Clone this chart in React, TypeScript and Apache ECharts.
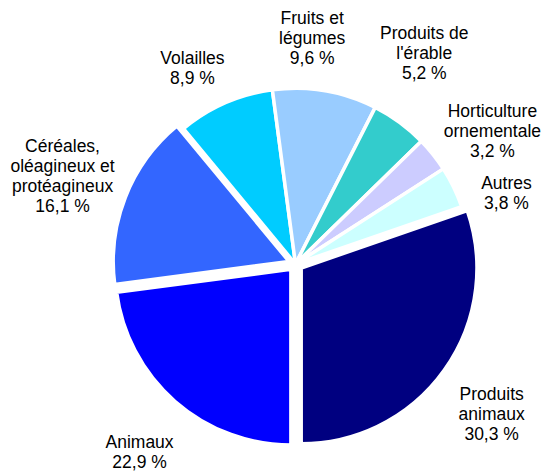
import { useEffect, useRef } from "react";
import * as echarts from "echarts";

// Data (clockwise, starting at 6 o'clock)
const categories = [
  "Animaux",
  "Céréales,\noléagineux et\nprotéagineux",
  "Volailles",
  "Fruits et\nlégumes",
  "Produits de\nl'érable",
  "Horticulture\nornementale",
  "Autres",
  "Produits\nanimaux",
];
const shares = [22.9, 16.1, 8.9, 9.6, 5.2, 3.2, 3.8, 30.3];
const exploded = [true, true, false, false, false, false, false, true];

// Styles / layout
const colors = ["#0000FF", "#3366FF", "#00CCFF", "#99CCFF", "#33CCCC", "#CCCCFF", "#CCFFFF", "#000080"];
const labelNudge: [number, number][] = [
  [-3.5, 13.3],
  [9.5, 6.4],
  [-15, 4],
  [-21.2, -2.9],
  [-9.6, -23.4],
  [5.6, 18.7],
  [9, 26.4],
  [-2.6, 7.2],
];

const CX = 295.5;
const CY = 264;
const BORDER = 3.5;
const R_VISUAL = 174;
const R = R_VISUAL + BORDER / 2;
const OFFSET = 7;
const GAP = 22;
const FONT = "'Liberation Sans', Arial, sans-serif";

const fmt = (v: number) => v.toFixed(1).replace(".", ",") + " %";

export default function App() {
  const ref = useRef<HTMLDivElement>(null);
  useEffect(() => {
    if (!ref.current) return;
    const chart = echarts.init(ref.current, undefined, { renderer: "svg" });
    const total = shares.reduce((a, b) => a + b, 0);
    const mids: number[] = [];
    let cum = 0;
    shares.forEach((v) => {
      mids.push(180 + ((cum + v / 2) / total) * 360);
      cum += v;
    });
    const common = {
      type: "pie",
      center: [CX, CY],
      radius: R,
      startAngle: -90,
      clockwise: true,
      avoidLabelOverlap: false,
      emphasis: { disabled: true },
    };
    chart.setOption({
      animation: false,
      backgroundColor: "#ffffff",
      series: [
        {
          ...common,
          selectedMode: "multiple",
          selectedOffset: OFFSET,
          itemStyle: { borderColor: "#ffffff", borderWidth: BORDER },
          label: { show: false },
          labelLine: { show: false },
          data: categories.map((name, i) => ({
            name,
            value: shares[i],
            selected: exploded[i],
            itemStyle: { color: colors[i] },
            select: { itemStyle: { color: colors[i] } },
          })),
        },
        {
          ...common,
          silent: true,
          selectedMode: false,
          itemStyle: { color: "rgba(0,0,0,0)", borderWidth: 0 },
          label: {
            show: true,
            position: "outside",
            formatter: (p: any) => p.name + "\n" + fmt(p.value),
            fontFamily: FONT,
            fontSize: 17.5,
            lineHeight: 20,
            color: "#000000",
          },
          labelLine: { show: false },
          labelLayout: (params: any) => {
            const i = params.dataIndex;
            const th = (mids[i] * Math.PI) / 180;
            const ux = Math.sin(th);
            const uy = -Math.cos(th);
            const w = params.labelRect.width / 2;
            const h = params.labelRect.height / 2;
            const edge = Math.min(
              Math.abs(ux) > 1e-6 ? w / Math.abs(ux) : Infinity,
              Math.abs(uy) > 1e-6 ? h / Math.abs(uy) : Infinity
            );
            const d = 175 + (exploded[i] ? OFFSET : 0) + GAP + edge;
            return {
              x: 295 + d * ux + labelNudge[i][0],
              y: 265 + d * uy + labelNudge[i][1],
              align: "center",
              verticalAlign: "middle",
            };
          },
          data: categories.map((name, i) => ({ name, value: shares[i] })),
        },
      ],
    });
    return () => chart.dispose();
  }, []);
  return (
    <div
      ref={ref}
      style={{ position: "fixed", left: 0, top: 0, width: 544, height: 472, background: "#fff" }}
    />
  );
}
